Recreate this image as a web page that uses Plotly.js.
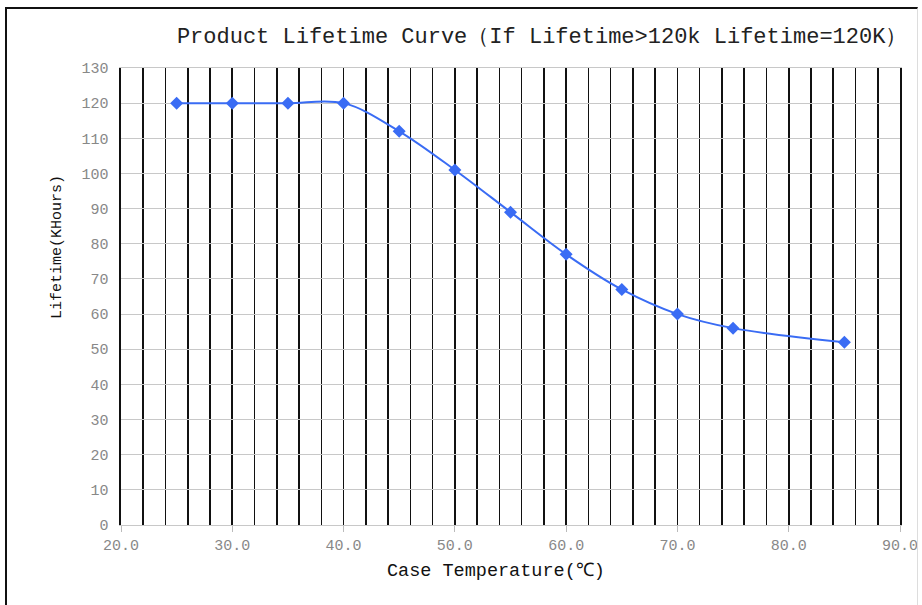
<!DOCTYPE html>
<html>
<head>
<meta charset="utf-8">
<script src="https://cdn.plot.ly/plotly-3.0.1.min.js"></script>
<style>
  html, body { margin: 0; padding: 0; background: #fff; }
  #wrap { position: relative; width: 922px; height: 605px; }
  #chart { position: absolute; left: 0; top: 0; width: 922px; height: 605px; }
  #frame { position: absolute; left: 5px; top: 7px; width: 913px; height: 600px;
           border-left: 2px solid #111; border-top: 2px solid #111; border-right: 1px solid #ddd;
           pointer-events: none; box-sizing: border-box; }
</style>
</head>
<body>
<div id="wrap">
  <div id="chart"></div>
  <div id="frame"></div>
</div>
<script>
// Data
const caseTemperature = [25, 30, 35, 40, 45, 50, 55, 60, 65, 70, 75, 85];
const lifetimeKHours  = [120, 120, 120, 120, 112, 101, 89, 77, 67, 60, 56, 52];
const xTickValues = [20, 30, 40, 50, 60, 70, 80, 90];
const xTickLabels = ["20.0", "30.0", "40.0", "50.0", "60.0", "70.0", "80.0", "90.0"];
const chartTitle = "Product Lifetime Curve（If Lifetime>120k Lifetime=120K）";
const xTitle = "Case Temperature(℃)";
const yTitle = "Lifetime(KHours)";

const mono = "Liberation Mono, DejaVu Sans Mono, monospace";

const trace = {
  x: caseTemperature,
  y: lifetimeKHours,
  type: "scatter",
  mode: "lines+markers",
  line: { color: "#3a6cf4", width: 2, shape: "spline", smoothing: 1 },
  marker: { symbol: "diamond", size: 10, color: "#3a6cf4" },
  hoverinfo: "x+y",
  showlegend: false
};

const layout = {
  width: 922, height: 605,
  paper_bgcolor: "#ffffff", plot_bgcolor: "#ffffff",
  margin: { l: 121, r: 22, t: 68, b: 80 },
  title: {
    text: chartTitle,
    font: { family: mono, size: 22, color: "#222" },
    xref: "container", yref: "container",
    x: 0.588, xanchor: "center", y: 0.942, yanchor: "middle"
  },
  xaxis: {
    range: [20, 90],
    tickmode: "array", tickvals: xTickValues, ticktext: xTickLabels,
    showgrid: true, gridcolor: "#111", gridwidth: 1.6,
    minor: { dtick: 2, tick0: 20, showgrid: true, gridcolor: "#111", gridwidth: 1.6, ticks: "" },
    ticks: "outside", ticklen: 6, tickcolor: "#bbb", tickwidth: 1,
    tickfont: { family: mono, size: 15, color: "#888" },
    showline: true, mirror: true, linecolor: "#c8c8c8", linewidth: 1,
    zeroline: false,
    fixedrange: true
  },
  yaxis: {
    range: [0, 130], dtick: 10, tick0: 0,
    showgrid: true, gridcolor: "#c8c8c8", gridwidth: 1,
    ticks: "", ticklabelstandoff: 8,
    tickfont: { family: mono, size: 15, color: "#888" },
    showline: true, mirror: true, linecolor: "#111", linewidth: 1.6,
    zeroline: false,
    fixedrange: true
  },
  annotations: [
    {
      text: xTitle, xref: "paper", yref: "paper",
      x: 0.481, y: -0.1007, xanchor: "center", yanchor: "middle",
      showarrow: false, font: { family: mono, size: 18.5, color: "#111" }
    },
    {
      text: yTitle, xref: "paper", yref: "paper", textangle: -90,
      x: -0.0822, y: 0.608, xanchor: "center", yanchor: "middle",
      showarrow: false, font: { family: mono, size: 15, color: "#111" }
    }
  ]
};

Plotly.newPlot("chart", [trace], layout, { displayModeBar: false, staticPlot: true });
</script>
</body>
</html>
